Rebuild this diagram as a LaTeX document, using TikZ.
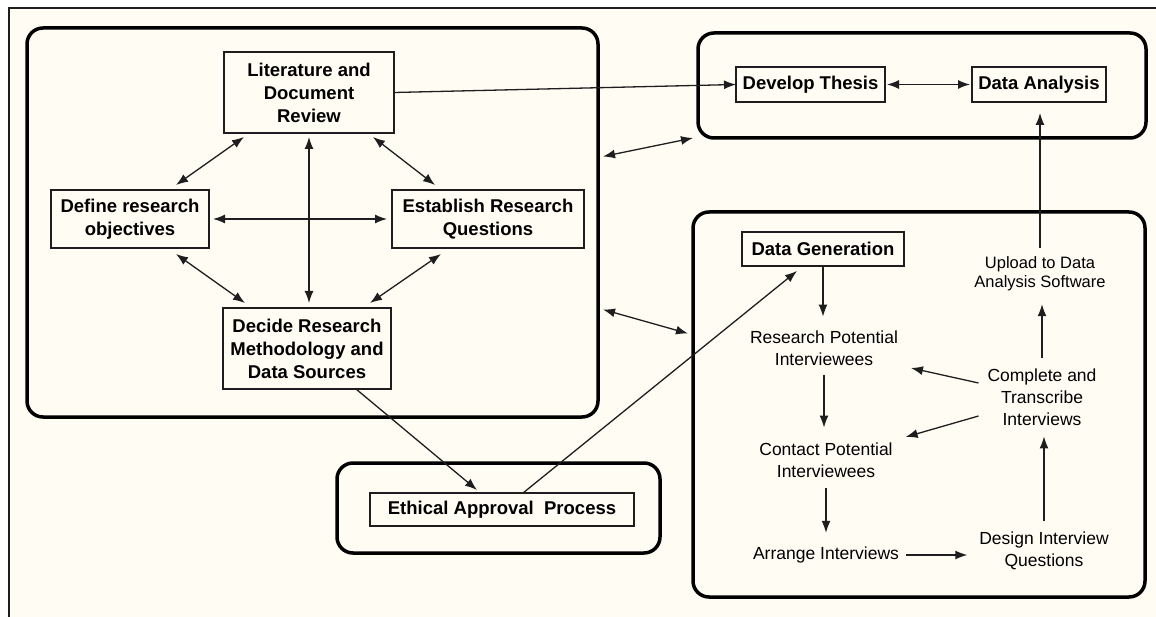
\documentclass[tikz,border=0pt]{standalone}
\usepackage{fontspec}
\setmainfont{Liberation Sans}
\usetikzlibrary{arrows.meta}
\definecolor{paper}{RGB}{255,252,244}
\definecolor{ink}{RGB}{30,30,30}

\tikzset{
  group/.style={draw=black, line width=3.5pt, rounded corners=16pt, outer sep=0pt},
  task/.style={draw=ink, line width=1.2pt, inner sep=0pt, outer sep=0pt, align=center,
    font=\fontsize{18.5}{23}\selectfont\bfseries},
  stage/.style={inner sep=0pt, outer sep=0pt, align=center, font=\fontsize{17.5}{22}\selectfont},
  link/.style={ink, line width=1.3pt},
}

\begin{document}
\begin{tikzpicture}[x=1pt, y=-1pt, >={Latex[length=12pt,width=9pt]}]
    \useasboundingbox (0,0) rectangle (1156,617);
    \fill[white] (0,0) rectangle (1156,617);
    \fill[paper] (9,8) rectangle (1156,617);
    \draw[ink, line width=2pt] (9,617) -- (9,8) -- (1156,8);

    \node[group, minimum width=571pt, minimum height=389pt] (plan) at (312.5,222.5) {};
    \node[group, minimum width=448pt, minimum height=105pt] (write) at (922,85.5) {};
    \node[group, minimum width=452pt, minimum height=385pt] (fieldwork) at (919,404.5) {};
    \node[group, minimum width=323pt, minimum height=90pt] (ethics) at (498.5,508) {};

    \node[task, minimum width=170pt, minimum height=81pt] (lit) at (309,92.5) {Literature and\\Document\\Review};
    \node[task, minimum width=158pt, minimum height=58pt] (objectives) at (130,219) {Define research\\objectives};
    \node[task, minimum width=192pt, minimum height=58pt] (questions) at (488,219) {Establish Research\\Questions};
    \node[task, minimum width=168pt, minimum height=81pt] (method) at (307,348.5) {Decide Research\\Methodology and\\Data Sources};
    \node[task, minimum width=149pt, minimum height=35pt] (thesis) at (810.5,84.5) {Develop Thesis};
    \node[task, minimum width=134pt, minimum height=35pt] (analysis) at (1039,84.5) {Data Analysis};
    \node[task, minimum width=264pt, minimum height=33pt] (approval) at (502,509.5) {Ethical Approval\ \ Process};
    \node[task, minimum width=162pt, minimum height=34pt] (datagen) at (823,249) {Data Generation};

    \node[stage] (research) at (824,348) {Research Potential\\Interviewees};
    \node[stage] (contact) at (826,460) {Contact Potential\\Interviewees};
    \node[stage] (arrange) at (826,555) {Arrange Interviews};
    \node[stage] (design) at (1044,550.5) {Design Interview\\Questions};
    \node[stage] (transcribe) at (1042,397) {Complete and\\Transcribe\\Interviews};
    \node[stage, font=\fontsize{16.5}{19}\selectfont] (upload) at (1040,274) {Upload to Data\\Analysis Software};

    \draw[link, ->] (lit.east) -- (thesis.west);
    \draw[link, <->, shorten <=2pt, shorten >=2pt] (thesis.east) -- (analysis.west);
    \draw[link, <->] ([xshift=20pt,yshift=-4pt]lit.south west) -- ([xshift=-33pt,yshift=5pt]objectives.north east);
    \draw[link, <->] ([xshift=-21pt,yshift=-4pt]lit.south east) -- ([xshift=43pt,yshift=5pt]questions.north west);
    \draw[link, <->, shorten <=4pt, shorten >=5pt] (objectives.east) -- (questions.west);
    \draw[link, <->, shorten <=4pt, shorten >=5pt] (lit.south) -- (lit.south |- method.north);
    \draw[link, <->] ([xshift=-33pt,yshift=-6pt]objectives.south east) -- ([xshift=22pt,yshift=5pt]method.north west);
    \draw[link, <->] ([xshift=49pt,yshift=-6pt]questions.south west) -- ([xshift=-21pt,yshift=5pt]method.north east);
    \draw[link, ->] ([xshift=49pt]method.south) -- ([xshift=-25pt,yshift=3pt]approval.north);
    \draw[link, ->] ([xshift=21pt]approval.north) -- ([xshift=-26pt,yshift=-5pt]datagen.south);
    \draw[link, <->] ([xshift=5pt,yshift=66pt]plan.east) -- ([xshift=-5pt]write.south west);
    \draw[link, <->] ([xshift=5pt,yshift=-87pt]plan.east) -- ([xshift=-5pt,yshift=71pt]fieldwork.west);

    \draw[link, ->, shorten >=14pt] (datagen.south) -- (datagen.south |- research.north);
    \draw[link, ->, shorten <=10pt, shorten >=15pt] (research.south) -- (research.south |- contact.north);
    \draw[link, ->, shorten <=11pt, shorten >=14pt] (contact.south) -- (contact.south |- arrange.north);
    \draw[link, ->, shorten <=7pt, shorten >=12pt] (arrange.east) -- (arrange.east -| design.west);
    \draw[link, ->, shorten <=11pt, shorten >=11pt] (design.north) -- (design.north |- transcribe.south);
    \draw[link, ->, shorten <=11pt, shorten >=13pt] (transcribe.north) -- (transcribe.north |- upload.south);
    \draw[link, ->, shorten <=9pt, shorten >=11pt] (upload.north) -- (upload.north |- analysis.south);
    \draw[link, ->] ([xshift=-9pt,yshift=14pt]transcribe.west) -- ([xshift=13pt,yshift=-20pt]research.east);
    \draw[link, ->] ([xshift=-9pt,yshift=-19pt]transcribe.west) -- ([xshift=13pt,yshift=23pt]contact.east);
\end{tikzpicture}
\end{document}
